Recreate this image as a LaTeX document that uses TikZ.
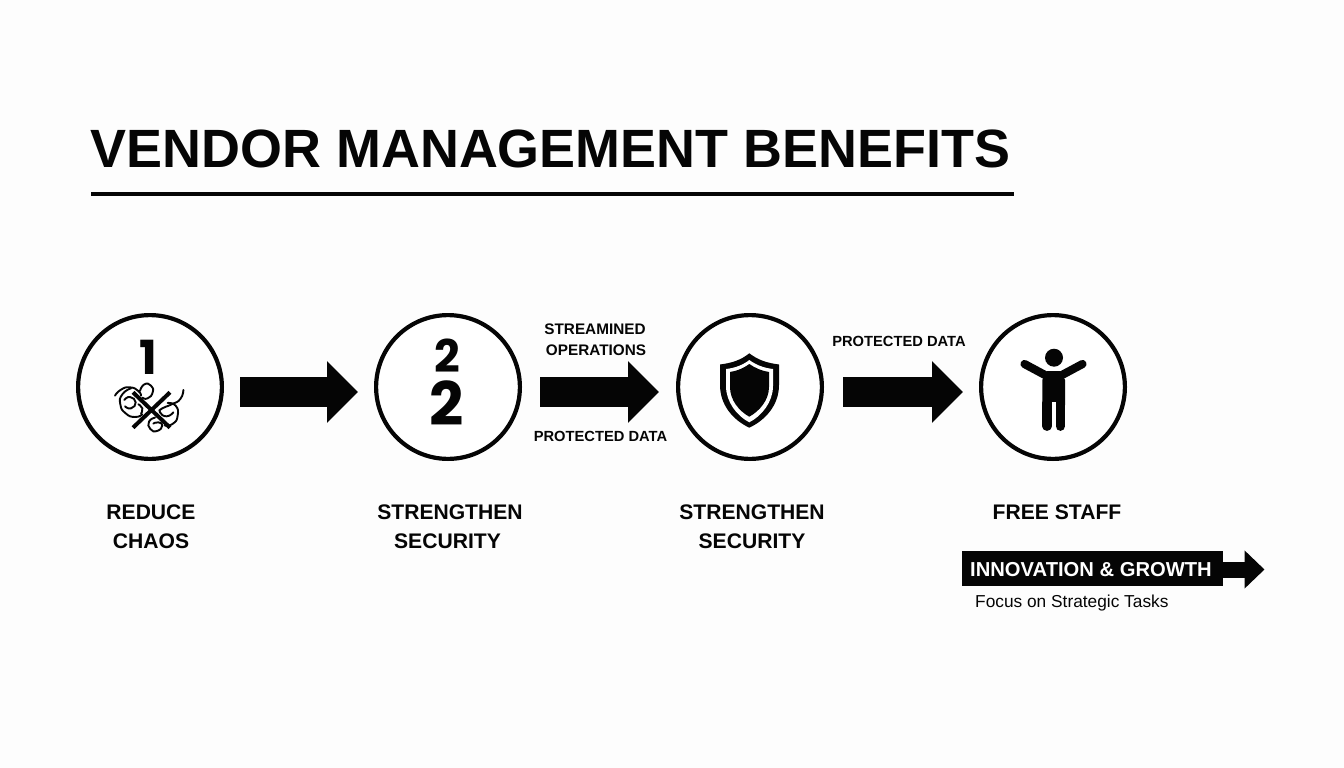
\documentclass[tikz,border=0pt]{standalone}
\usepackage{fontspec}
\usetikzlibrary{arrows.meta}
\setmainfont{Liberation Sans}
\newfontfamily\titlefont{Poppins}[BoldFont=Poppins Bold]
\definecolor{ink}{HTML}{050505}
\definecolor{paper}{HTML}{FDFDFD}
\tikzset{
  ring/.style={circle,draw=ink,line width=4.2pt,minimum size=143.8pt,inner sep=0pt,fill=white},
  blockarrow/.style={draw=ink,line width=29.5pt,-{Triangle[length=31pt,width=60pt,sep=0pt]}},
  smallarrow/.style={draw=ink,line width=16pt,-{Triangle[length=20pt,width=37pt,sep=0pt]}},
  headline/.style={anchor=base,inner sep=0pt,text=ink,font=\bfseries\fontsize{53.9}{54}\selectfont},
  steplabel/.style={anchor=base,inner sep=0pt,text=ink,font=\bfseries\fontsize{21.1}{21}\selectfont},
  arrowlabel/.style={anchor=base,inner sep=0pt,text=ink,font=\bfseries\fontsize{14.7}{15}\selectfont},
  arrowlabelwide/.style={anchor=base,inner sep=0pt,text=ink,font=\bfseries\fontsize{15.3}{15}\selectfont},
  numeral/.style={anchor=base,inner sep=0pt,text=ink,font=\titlefont\bfseries\fontsize{#1}{#1}\selectfont},
  tangle/.style={draw=ink,line width=1.9pt,line cap=round},
  crossbar/.style={draw=ink,line width=4pt},
  limb/.style={draw=ink,line cap=round},
}
\begin{document}
\begin{tikzpicture}[x=1pt,y=-1pt]
\useasboundingbox (0,0) rectangle (1344,768);
\fill[paper] (0,0) rectangle (1344,768);

% title
\node[headline] (title) at (550.5,167) {VENDOR MANAGEMENT BENEFITS};
\coordinate (ruleL) at (91,194);
\coordinate (ruleR) at (1014,194);
\draw[ink,line width=3.4pt] (ruleL) -- (ruleR);

% circles
\node[ring] (c1) at (150,387) {};
\node[ring] (c2) at (448,387) {};
\node[ring] (c3) at (750,387) {};
\node[ring] (c4) at (1053,387) {};

% connectors
\draw[blockarrow] ([shift={(16,5)}]c1.east) -- ([shift={(-16,5)}]c2.west);
\draw[blockarrow] ([shift={(18,5)}]c2.east) -- ([shift={(-17,5)}]c3.west);
\draw[blockarrow] ([shift={(19,5)}]c3.east) -- ([shift={(-16,5)}]c4.west);

% circle 1
\node[numeral=47] (n1) at (148.5,374) {1};
\begin{scope}[shift={(105,375)},x=0.3333pt,y=-0.3333pt]
  \draw[tangle] plot[smooth,tension=1] coordinates {(30,62) (48,44) (75,37) (100,48) (108,62)};
  \draw[tangle] plot[smooth,tension=1] coordinates {(78,40) (52,58) (46,88) (62,115) (90,126) (112,118)};
  \draw[tangle] plot[smooth,tension=1] coordinates {(58,75) (75,66) (92,82) (78,100) (60,94)};
  \draw[tangle] plot[smooth,tension=1] coordinates {(105,48) (118,28) (138,32) (143,52) (128,70) (112,68)};
  \draw[tangle] plot[smooth,tension=1] coordinates {(235,45) (226,72) (200,88) (172,100) (165,112) (185,124) (205,112)};
  \draw[tangle] plot[smooth,tension=1] coordinates {(188,84) (212,92) (218,122) (204,146) (180,152)};
  \draw[tangle] plot[smooth,tension=1] coordinates {(150,128) (132,140) (136,162) (156,168) (172,152) (160,142) (145,146)};
  \draw[tangle] plot[smooth,tension=1] coordinates {(100,88) (112,100) (108,116)};
  \draw[crossbar] (84,52) -- (195,158);
  \draw[crossbar] (195,52) -- (84,158);
\end{scope}

% circle 2
\node[numeral=45] (n2a) at (447,372) {2};
\node[numeral=60] (n2b) at (447,425) {2};

% shield
\fill[ink] (749.3,353.3) .. controls (741,360) and (732,363) .. (720,364.5)
  -- (720,385) .. controls (720,405) and (733,420) .. (749.3,427.7)
  .. controls (765.6,420) and (779,405) .. (779,385)
  -- (779,364.5) .. controls (767,363) and (758,360) .. (749.3,353.3) -- cycle;
\fill[white] (749.3,360) .. controls (743,365) and (735,368) .. (726,369)
  -- (726,386) .. controls (726,402) and (737,416) .. (749.3,422.3)
  .. controls (761.6,416) and (773,402) .. (773,386)
  -- (773,369) .. controls (764,368) and (756,365) .. (749.3,360) -- cycle;
\fill[ink] (749.3,364) .. controls (744,368) and (737,371) .. (730,372)
  -- (730,387) .. controls (730,400) and (739,411) .. (749.3,416.7)
  .. controls (759.6,411) and (769,400) .. (769,387)
  -- (769,372) .. controls (762,371) and (755,368) .. (749.3,364) -- cycle;

% person
\fill[ink] (1054,357.7) circle (9);
\draw[limb,line width=8.2pt] (1024.5,364) -- (1045,375);
\draw[limb,line width=8.2pt] (1082.5,364) -- (1062,375);
\fill[ink] (1042.3,380) -- (1047,371) -- (1060.4,371) -- (1065,380) -- (1065,405) -- (1042.3,405) -- cycle;
\fill[white] (1051.7,402) rectangle (1055.7,432);
\draw[limb,line width=9.4pt] (1047,403) -- (1047,426.2);
\draw[limb,line width=9.4pt] (1060.3,403) -- (1060.3,426.2);

% labels under circles
\node[steplabel] (l1a) at (151,519.5) {REDUCE};
\node[steplabel] (l1b) at (151,548.5) {CHAOS};
\node[steplabel] (l2a) at (450,519.5) {STRENGTHEN};
\node[steplabel] (l2b) at (447.5,548.5) {SECURITY};
\node[steplabel] (l3a) at (752,519.5) {STRENGTHEN};
\node[steplabel] (l3b) at (752,548.5) {SECURITY};
\node[steplabel] (l4a) at (1057,519.5) {FREE STAFF};

% arrow labels
\node[arrowlabelwide] (a1) at (595,334.5) {STREAMINED};
\node[arrowlabelwide] (a2) at (596,355) {OPERATIONS};
\node[arrowlabel] (a3) at (600.5,441) {PROTECTED DATA};
\node[arrowlabel] (a4) at (899,346) {PROTECTED DATA};

% innovation banner
\node[fill=ink,minimum width=261pt,minimum height=35pt,inner sep=0pt] (banner) at (1092.5,568.5) {};
\coordinate (bannerTip) at (1264.5,569.5);
\draw[smallarrow] ([shift={(0,1)}]banner.east) -- (bannerTip);
\node[steplabel,text=white,font=\bfseries\fontsize{20.2}{20}\selectfont] (bannerText) at (1091,576) {INNOVATION \& GROWTH};
\node[anchor=base west,inner sep=0pt,text=ink,font=\fontsize{17.3}{17}\selectfont] (focus) at (975,607) {Focus on Strategic Tasks};
\end{tikzpicture}
\end{document}
